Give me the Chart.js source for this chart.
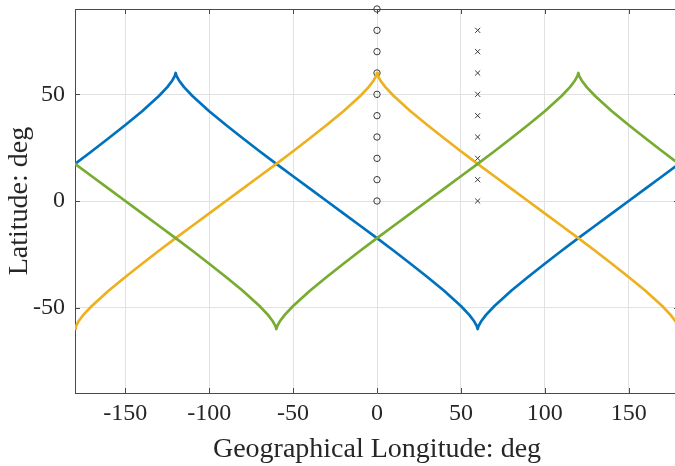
<!DOCTYPE html>
<html>
<head>
<meta charset="utf-8">
<script src="https://cdn.jsdelivr.net/npm/chart.js@4.4.1/dist/chart.umd.min.js"></script>
<style>
  html, body { margin: 0; padding: 0; overflow: hidden; background: #fff; width: 675px; height: 466px; }
  #wrap { width: 684px; height: 466px; }
</style>
</head>
<body>
<div id="wrap"><canvas id="c" width="684" height="466"></canvas></div>
<script>
// Ground tracks of three satellites (longitude / latitude in degrees)
const track1Lon = [-180,-170,-160,-150,-140,-130,-125,-122,-120.5,-120,-119.5,-118,-115,-110,-100,-90,-80,-70,-60,-50,-40,-30,-20,-10,0,10,20,30,40,50,55,58,59.5,60,60.5,62,65,70,80,90,100,110,120,130,140,150,160,170,180];
const track1Lat = [17.4,23.3,29.4,35.6,42.1,49.2,53.4,56.5,58.7,60,58.7,56.5,53.4,49.2,42.1,35.6,29.4,23.3,17.4,11.6,5.8,0,-5.8,-11.6,-17.4,-23.3,-29.4,-35.6,-42.1,-49.2,-53.4,-56.5,-58.7,-60,-58.7,-56.5,-53.4,-49.2,-42.1,-35.6,-29.4,-23.3,-17.4,-11.6,-5.8,0,5.8,11.6,17.4];

const track2Lon = [-180,-179.5,-178,-175,-170,-160,-150,-140,-130,-120,-110,-100,-90,-80,-70,-60,-50,-40,-30,-20,-10,-5,-2,-0.5,0,0.5,2,5,10,20,30,40,50,60,70,80,90,100,110,120,130,140,150,160,170,175,178,179.5,180];
const track2Lat = [-60,-58.7,-56.5,-53.4,-49.2,-42.1,-35.6,-29.4,-23.3,-17.4,-11.6,-5.8,0,5.8,11.6,17.4,23.3,29.4,35.6,42.1,49.2,53.4,56.5,58.7,60,58.7,56.5,53.4,49.2,42.1,35.6,29.4,23.3,17.4,11.6,5.8,0,-5.8,-11.6,-17.4,-23.3,-29.4,-35.6,-42.1,-49.2,-53.4,-56.5,-58.7,-60];

const track3Lon = [-180,-170,-160,-150,-140,-130,-120,-110,-100,-90,-80,-70,-65,-62,-60.5,-60,-59.5,-58,-55,-50,-40,-30,-20,-10,0,10,20,30,40,50,60,70,80,90,100,110,115,118,119.5,120,120.5,122,125,130,140,150,160,170,180];
const track3Lat = [17.4,11.6,5.8,0,-5.8,-11.6,-17.4,-23.3,-29.4,-35.6,-42.1,-49.2,-53.4,-56.5,-58.7,-60,-58.7,-56.5,-53.4,-49.2,-42.1,-35.6,-29.4,-23.3,-17.4,-11.6,-5.8,0,5.8,11.6,17.4,23.3,29.4,35.6,42.1,49.2,53.4,56.5,58.7,60,58.7,56.5,53.4,49.2,42.1,35.6,29.4,23.3,17.4];

// Reference station markers
const circleLon = [0,0,0,0,0,0,0,0,0,0];
const circleLat = [0,10,20,30,40,50,60,70,80,90];
const crossLon  = [60,60,60,60,60,60,60,60,60];
const crossLat  = [0,10,20,30,40,50,60,70,80];

// Axis ticks
const xTicks = [-150,-100,-50,0,50,100,150];
const yTicks = [-50,0,50];

const pts = (lon, lat) => lon.map((x, i) => ({ x, y: lat[i] }));
const SERIF = "'Liberation Serif', 'Times New Roman', serif";
const INK = '#262626';
const AXIS = '#4a4a4a';

// Box outline (top/right) and inward-pointing tick marks
const frame = {
  id: 'frame',
  beforeDatasetsDraw(chart) {
    const { ctx, chartArea: a, scales: { x, y } } = chart;
    ctx.save();
    ctx.strokeStyle = AXIS;
    ctx.lineWidth = 1;
    ctx.beginPath();
    ctx.moveTo(a.left, a.top + 0.5); ctx.lineTo(a.right, a.top + 0.5);
    ctx.moveTo(a.right - 0.5, a.top); ctx.lineTo(a.right - 0.5, a.bottom);
    xTicks.forEach(v => {
      const px = Math.round(x.getPixelForValue(v)) + 0.5;
      ctx.moveTo(px, a.bottom); ctx.lineTo(px, a.bottom - 5);
      ctx.moveTo(px, a.top); ctx.lineTo(px, a.top + 5);
    });
    yTicks.forEach(v => {
      const py = Math.round(y.getPixelForValue(v)) + 0.5;
      ctx.moveTo(a.left, py); ctx.lineTo(a.left + 5, py);
      ctx.moveTo(a.right, py); ctx.lineTo(a.right - 5, py);
    });
    ctx.stroke();
    ctx.restore();
  }
};

const lineStyle = (color, order) => ({
  borderColor: color,
  backgroundColor: color,
  borderWidth: 2.7,
  showLine: true,
  pointRadius: 0,
  tension: 0,
  borderJoinStyle: 'round',
  borderCapStyle: 'round',
  order
});

new Chart(document.getElementById('c'), {
  type: 'scatter',
  data: {
    datasets: [
      { data: pts(track1Lon, track1Lat), ...lineStyle('#0072BD', 3) },
      { data: pts(track2Lon, track2Lat), ...lineStyle('#EDB120', 2) },
      { data: pts(track3Lon, track3Lat), ...lineStyle('#77AC30', 1) },
      { data: pts(circleLon, circleLat), pointStyle: 'circle', pointRadius: 3.2, borderWidth: 1,
        borderColor: '#3a3a3a', backgroundColor: 'rgba(0,0,0,0)', showLine: false, clip: false, order: 4 },
      { data: pts(crossLon, crossLat), pointStyle: 'crossRot', pointRadius: 3.6, borderWidth: 1,
        borderColor: '#3a3a3a', backgroundColor: 'rgba(0,0,0,0)', showLine: false, clip: false, order: 5 }
    ]
  },
  options: {
    responsive: false,
    devicePixelRatio: 1,
    animation: false,
    layout: { padding: { top: 9, right: 2, left: 0, bottom: 0 } },
    plugins: { legend: { display: false }, tooltip: { enabled: false } },
    scales: {
      x: {
        type: 'linear',
        min: -180,
        max: 180,
        afterBuildTicks: s => { s.ticks = xTicks.map(v => ({ value: v })); },
        afterFit: s => { s.height = 73; s.paddingLeft = 0; s.paddingRight = 0; },
        grid: { color: '#e2e2e2', lineWidth: 1, drawTicks: false },
        border: { color: AXIS, width: 1 },
        ticks: { font: { family: SERIF, size: 24 }, color: INK, padding: 6, maxRotation: 0, autoSkip: false },
        title: { display: true, text: 'Geographical Longitude: deg', color: INK,
                 font: { family: SERIF, size: 28 }, padding: { top: 0, bottom: 0 } }
      },
      y: {
        type: 'linear',
        min: -90,
        max: 90,
        afterBuildTicks: s => { s.ticks = yTicks.map(v => ({ value: v })); },
        afterFit: s => { s.width = 75; s.paddingTop = 0; s.paddingBottom = 0; },
        grid: { color: '#e2e2e2', lineWidth: 1, drawTicks: false },
        border: { color: AXIS, width: 1 },
        ticks: { font: { family: SERIF, size: 24 }, color: INK, padding: 10, autoSkip: false },
        title: { display: true, text: 'Latitude: deg', color: INK,
                 font: { family: SERIF, size: 28 }, padding: { top: 3, bottom: 0 } }
      }
    }
  },
  plugins: [frame]
});
</script>
</body>
</html>
